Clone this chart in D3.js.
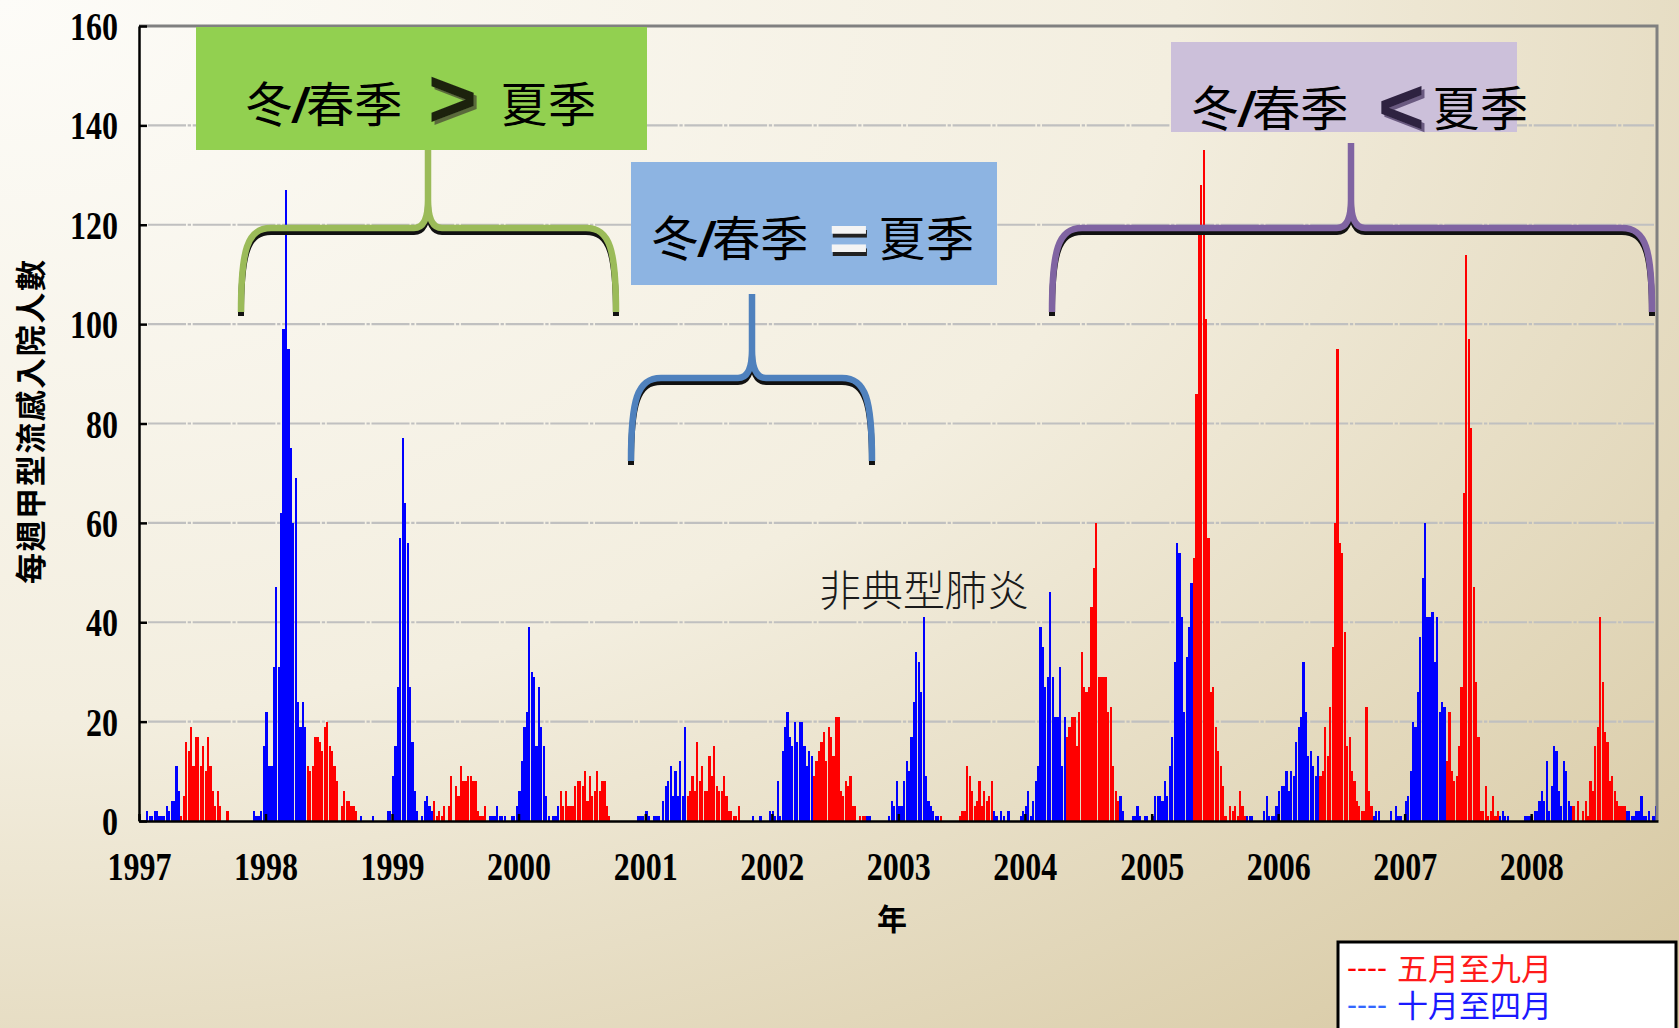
<!DOCTYPE html>
<html>
<head>
<meta charset="utf-8">
<script src="https://cdn.jsdelivr.net/npm/d3@7"></script>
<style>
body { margin: 0; overflow: hidden; }
</style>
</head>
<body>
<script>
// weekly admissions, 52 weeks per year
var years = [1997, 1998, 1999, 2000, 2001, 2002, 2003, 2004, 2005, 2006, 2007, 2008];

var cases1997 = [1,0,0,2,1,1,2,2,1,1,1,3,2,4,4,11,6, 1,5,16,14,19,11,17,17,11,15,10,17,11,6,3,6,3,0,0,2,0,0, 0,0,0,0,0,0,0,0,2,1,1,2,15];
var cases1998 = [22,11,11,31,47,31,62,99,127,95,75,60,69,24,19,24,19, 11,10,11,17,17,16,14,19,20,15,14,11,8,0,3,6,4,4,3,3,2,0, 1,0,0,0,0,1,0,0,0,0,0,2,2];
var cases1999 = [9,15,27,57,77,64,56,27,16,6,2,0,1,4,5,3,2, 4,1,2,1,3,0,3,9,0,7,5,11,8,8,9,9,8,8,2,1,1,3, 0,1,1,1,3,1,1,1,0,0,1,1,3];
var cases2000 = [6,12,19,22,39,30,29,15,27,19,15,5,1,0,1,1,3, 6,3,6,3,3,3,7,8,8,7,10,4,9,5,6,10,6,8,8,3,1,0, 0,0,0,0,0,0,0,0,0,0,1,1,1];
var cases2001 = [2,1,0,1,1,1,0,4,7,8,11,5,10,5,12,5,19, 5,6,9,6,16,8,11,6,6,13,9,15,7,6,6,9,5,2,2,1,1,3, 0,0,0,0,0,1,0,0,1,0,0,0,2];
var cases2002 = [2,1,8,1,14,19,22,17,15,20,16,20,20,15,11,14,13, 9,12,14,16,18,12,19,17,13,21,21,6,5,8,7,9,3,3,0,1,1,1, 1,1,0,0,0,0,0,0,0,1,4,3,8];
var cases2003 = [3,3,8,12,10,17,24,34,32,26,41,9,4,3,2,1,1, 1,0,0,0,0,0,0,0,1,2,2,11,9,6,3,4,8,3,6,4,5,8, 2,1,0,2,1,0,2,0,0,0,0,1,2];
var cases2004 = [3,6,1,4,8,11,39,35,27,29,46,29,21,21,31,11,21, 17,19,21,21,15,22,34,27,26,27,43,51,60,29,29,29,29,22,23,11,6,4, 5,2,0,0,0,1,1,3,1,0,1,1,0];
var cases2005 = [1,5,5,5,4,8,5,11,17,32,56,54,41,22,33,39,48, 53,86,120,128,135,101,57,26,27,19,14,11,7,1,0,3,2,3,1,6,3,1, 1,1,1,0,0,0,0,2,5,1,1,1,3];
var cases2006 = [6,7,7,10,6,10,9,16,19,21,32,22,13,14,11,9,13,9, 10,19,13,23,35,60,95,56,54,38,15,17,10,8,4,3,2,2,23,6,3,1, 2,2,0,0,0,0,2,0,3,1,1,0];
var cases2007 = [4,5,10,20,19,26,37,49,60,41,41,42,32,41,22,24,23,12, 22,10,8,9,15,27,66,114,97,79,47,28,17,2,2,7,1,2,5,1,2, 1,2,1,1,0,0,0,0,0,0,1,1,1];
var cases2008 = [1,2,2,4,6,4,12,2,7,15,14,6,3,12,10,4,3, 3,0,4,0,2,4,1,8,6,15,19,41,28,18,16,8,9,6,4,3,3,3, 2,2,1,1,2,2,5,1,1,2,0,1,3];

var weeklyCases = [cases1997, cases1998, cases1999, cases2000, cases2001, cases2002,
                   cases2003, cases2004, cases2005, cases2006, cases2007, cases2008];

var yTicks = [0, 20, 40, 60, 80, 100, 120, 140, 160];
var yTitle = "每週甲型流感入院人數";
var xTitle = "年";
var seasonLabels = ["五月至九月", "十月至四月"];
var sarsLabel = "非典型肺炎";

var color_summer = "#ff0000", color_winter = "#0000ff";

var width = 1679, height = 1028;
var plot = {left: 139, right: 1658, top: 26, bottom: 821};

var svg = d3.select("body").append("svg")
    .attr("width", width)
    .attr("height", height);

// background
var defs = svg.append("defs");
var bg = defs.append("radialGradient")
    .attr("id", "bg")
    .attr("cx", 0).attr("cy", 0).attr("r", 1.4)
    .attr("fx", 0).attr("fy", 0);
bg.append("stop").attr("offset", 0).attr("stop-color", "#fdfcf8");
bg.append("stop").attr("offset", 0.5).attr("stop-color", "#f3eedf");
bg.append("stop").attr("offset", 1).attr("stop-color", "#d6c7a0");

svg.append("rect")
    .attr("width", width)
    .attr("height", height)
    .attr("fill", "url(#bg)");

var x = d3.scaleTime()
    .domain([new Date(1997, 0, 1), new Date(2009, 0, 1)])
    .range([plot.left, plot.right]);
var y = d3.scaleLinear()
    .domain([0, 160])
    .range([plot.bottom, plot.top]);

// one record per week
var weeks = [];
years.forEach(function(yr, i) {
  weeklyCases[i].forEach(function(v, k) {
    var mid = new Date(yr, 0, 4 + 7 * k).getMonth();
    weeks.push({
      start: new Date(yr, 0, 1 + 7 * k),
      end: new Date(yr, 0, 8 + 7 * k),
      value: v,
      summer: mid >= 4 && mid <= 8
    });
  });
});

// gridlines
svg.append("g")
    .attr("class", "grid")
  .selectAll("line")
  .data(yTicks.filter(function(d) { return d > 0 && d < 160; }))
  .enter().append("line")
    .attr("x1", plot.left + 9)
    .attr("x2", plot.right - 4)
    .attr("y1", function(d) { return y(d); })
    .attr("y2", function(d) { return y(d); })
    .attr("stroke", "#c0c0c0")
    .attr("stroke-width", 2.2)
    .attr("stroke-dasharray", "38,1.7,3.3,1.7");

// bars
svg.append("g")
    .attr("class", "bars")
  .selectAll("rect")
  .data(weeks.filter(function(d) { return d.value > 0; }))
  .enter().append("rect")
    .attr("x", function(d) { return x(d.start); })
    .attr("width", function(d) { return Math.max(1, x(d.end) - x(d.start) - 0.25); })
    .attr("y", function(d) { return y(d.value); })
    .attr("height", function(d) { return y(0) - y(d.value); })
    .attr("fill", function(d) { return d.summer ? color_summer : color_winter; })
    .attr("shape-rendering", "crispEdges");

// frame: top and right in grey
svg.append("path")
    .attr("d", "M" + plot.left + "," + plot.top + "H" + (plot.right - 1) + "V" + plot.bottom)
    .attr("fill", "none")
    .attr("stroke", "#808080")
    .attr("stroke-width", 3);

// axes
var yAxis = svg.append("g")
    .attr("class", "axis y")
    .attr("transform", "translate(" + plot.left + ",0)")
    .call(d3.axisLeft(y).tickValues(yTicks).tickSizeInner(-8).tickSizeOuter(0).tickPadding(21));

var xAxis = svg.append("g")
    .attr("class", "axis x")
    .attr("transform", "translate(0," + plot.bottom + ")")
    .call(d3.axisBottom(x)
      .tickValues(years.map(function(yr) { return new Date(yr, 0, 1); }))
      .tickFormat(d3.timeFormat("%Y"))
      .tickSizeInner(-7).tickSizeOuter(0).tickPadding(31));

d3.selectAll(".axis path.domain").attr("stroke", "#000").attr("stroke-width", 2.5);
d3.selectAll(".axis line").attr("stroke", "#000").attr("stroke-width", 2.5);
d3.selectAll(".axis text")
    .attr("fill", "#000")
    .style("font-family", "'Liberation Serif', 'DejaVu Serif', serif")
    .style("font-weight", "bold")
    .style("font-size", "40px")
    .attr("lengthAdjust", "spacingAndGlyphs")
    .attr("textLength", function() { return this.textContent.length * 16; });
yAxis.selectAll("text").attr("dy", "0.34em");

// axis titles
svg.append("text")
    .attr("transform", "translate(42,422) rotate(-90)")
    .attr("text-anchor", "middle")
    .style("font-family", "'Noto Sans CJK TC', sans-serif")
    .style("font-weight", "bold")
    .style("font-size", "31px")
    .attr("textLength", 324)
    .text(yTitle);

svg.append("text")
    .attr("x", 892)
    .attr("y", 930)
    .attr("text-anchor", "middle")
    .style("font-family", "'Noto Sans CJK TC', sans-serif")
    .style("font-weight", "bold")
    .style("font-size", "30px")
    .text(xTitle);

// SARS note
svg.append("text")
    .attr("x", 819)
    .attr("y", 606)
    .attr("fill", "#1a1a1a")
    .style("font-family", "'Noto Sans CJK TC', sans-serif")
    .style("font-weight", 300)
    .style("font-size", "42px")
    .text(sarsLabel);

// braces
function bracePath(x0, x1, xm, yBar, yTip, yTop) {
  var p = d3.path();
  p.moveTo(x0, yTip);
  p.bezierCurveTo(x0, yBar + 22, x0 + 6, yBar, x0 + 30, yBar);
  p.lineTo(xm - 14, yBar);
  p.bezierCurveTo(xm - 4, yBar, xm, yBar - 10, xm, yBar - 28);
  p.lineTo(xm, yTop);
  p.moveTo(xm, yBar - 28);
  p.bezierCurveTo(xm, yBar - 10, xm + 4, yBar, xm + 14, yBar);
  p.lineTo(x1 - 30, yBar);
  p.bezierCurveTo(x1 - 6, yBar, x1, yBar + 22, x1, yTip);
  return p.toString();
}

function drawBrace(x0, x1, xm, yBar, yTip, yTop, color) {
  var d = bracePath(x0, x1, xm, yBar, yTip, yTop);
  var g = svg.append("g").attr("class", "brace");
  g.append("path")
      .attr("d", d)
      .attr("transform", "translate(0,4)")
      .attr("fill", "none")
      .attr("stroke", "#111")
      .attr("stroke-width", 6);
  g.append("path")
      .attr("d", d)
      .attr("fill", "none")
      .attr("stroke", color)
      .attr("stroke-width", 6.5)
      .attr("stroke-linejoin", "round");
}

drawBrace(241, 616, 428, 228, 312, 149, "#9bbb59");
drawBrace(631, 872, 752, 378, 461, 294, "#4f81bd");
drawBrace(1052, 1652, 1351, 228, 312, 143, "#8064a2");

// comparison boxes
function drawBox(b) {
  svg.append("rect")
      .attr("x", b.x).attr("y", b.y)
      .attr("width", b.w).attr("height", b.h)
      .attr("fill", b.fill);
  var t = svg.append("text")
      .attr("x", b.tx)
      .attr("y", b.ty)
      .attr("fill", "#000")
      .style("font-family", "'Noto Sans CJK TC', sans-serif")
      .style("font-size", "48px");
  t.append("tspan").text("冬");
  t.append("tspan")
      .style("font-family", "'Liberation Sans', sans-serif")
      .style("font-weight", "bold")
      .style("font-style", "italic")
      .text("/");
  t.append("tspan").text("春季");

  var fid = "shadow" + b.id;
  defs.append("filter")
      .attr("id", fid)
      .attr("x", "-20%").attr("y", "-20%")
      .attr("width", "150%").attr("height", "150%")
    .append("feDropShadow")
      .attr("dx", b.shadowDx).attr("dy", b.shadowDy)
      .attr("stdDeviation", 0.4)
      .attr("flood-color", b.shadow);
  svg.append("text")
      .attr("x", b.sx).attr("y", b.sy)
      .attr("fill", b.signColor)
      .attr("filter", "url(#" + fid + ")")
      .style("font-family", "'Liberation Sans', sans-serif")
      .style("font-weight", "bold")
      .style("font-size", b.signSize + "px")
      .text(b.sign);

  svg.append("text")
      .attr("x", b.summerX)
      .attr("y", b.ty)
      .attr("fill", "#000")
      .style("font-family", "'Noto Sans CJK TC', sans-serif")
      .style("font-size", "48px")
      .text("夏季");
}

drawBox({id: 1, x: 196, y: 27, w: 451, h: 123, fill: "#92d050", tx: 245, ty: 122,
         sign: ">", sx: 428, sy: 127, signSize: 84, signColor: "#1c2410",
         shadow: "#5a6a3a", shadowDx: 3, shadowDy: 3, summerX: 500});
drawBox({id: 2, x: 631, y: 162, w: 366, h: 123, fill: "#8db4e2", tx: 651, ty: 256,
         sign: "=", sx: 829, sy: 262, signSize: 68, signColor: "#f4f4f4",
         shadow: "#222", shadowDx: 1, shadowDy: 4, summerX: 878});
drawBox({id: 3, x: 1171, y: 42, w: 346, h: 90, fill: "#ccc0da", tx: 1191, ty: 126,
         sign: "<", sx: 1378, sy: 134, signSize: 80, signColor: "#2e2240",
         shadow: "#6a5a80", shadowDx: 3, shadowDy: 3, summerX: 1432});

// legend
var legend = svg.append("g").attr("class", "legend");
legend.append("rect")
    .attr("x", 1338).attr("y", 942)
    .attr("width", 338).attr("height", 100)
    .attr("fill", "#fff")
    .attr("stroke", "#000")
    .attr("stroke-width", 3);

var legendItems = [
  {label: seasonLabels[0], dash: "#ff0000", text: "#ff1a1a"},
  {label: seasonLabels[1], dash: "#3366ff", text: "#1a1aff"}
];
var legendText = legend.append("text")
    .style("font-family", "'Noto Sans CJK TC', sans-serif")
    .style("font-size", "31px");
legendItems.forEach(function(d, i) {
  legendText.append("tspan")
      .attr("x", 1347)
      .attr("y", 978 + 37 * i)
      .attr("fill", d.dash)
      .style("font-family", "'Liberation Sans', sans-serif")
      .style("font-size", "30px")
      .text("----");
  legendText.append("tspan")
      .attr("x", 1397)
      .attr("y", 980 + 37 * i)
      .attr("fill", d.text)
      .text(d.label);
});
</script>
</body>
</html>
